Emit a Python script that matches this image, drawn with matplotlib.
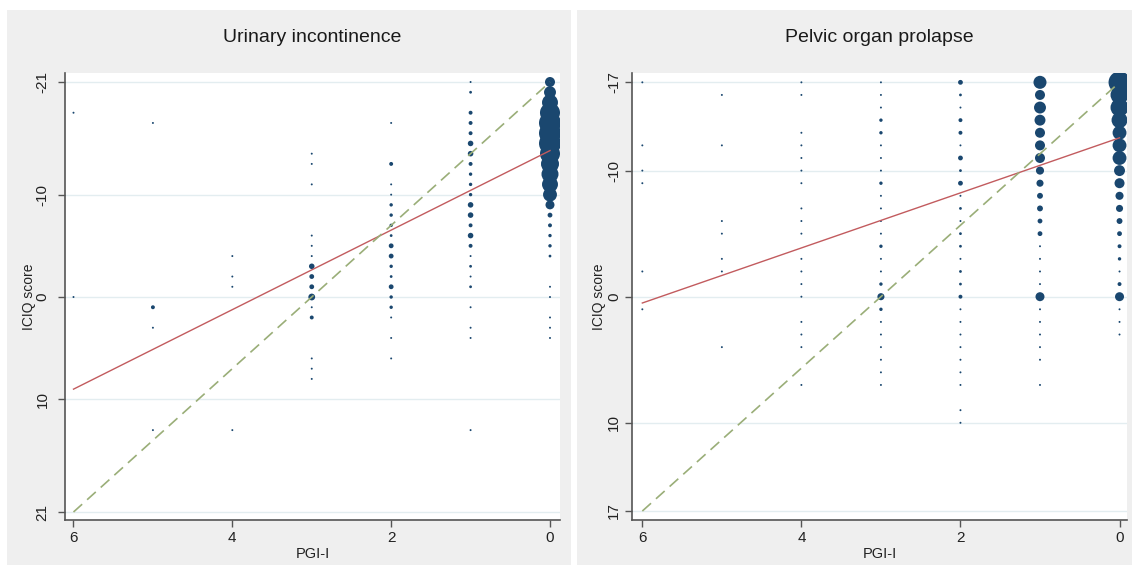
import numpy as np
import matplotlib.pyplot as plt
from matplotlib.patches import Rectangle

plt.rcParams['font.family'] = ['Liberation Sans', 'DejaVu Sans']

# PGI-I columns
pgi = [6, 5, 4, 3, 2, 1, 0]

# Urinary incontinence: ICIQ change score at each PGI-I value, and how many women share it
ui_y6 = [-18, 0]
ui_n6 = [1, 1]
ui_y5 = [-17, 1, 3, 13]
ui_n5 = [1, 4, 1, 1]
ui_y4 = [-4, -2, -1, 13]
ui_n4 = [1, 1, 1, 1]
ui_y3 = [-14, -13, -11, -6, -5, -4, -3, -2, -1, 0, 1, 2, 6, 7, 8]
ui_n3 = [1, 1, 1, 1, 1, 1, 8, 6, 6, 12, 1, 4, 1, 1, 1]
ui_y2 = [-17, -13, -11, -10, -9, -8, -7, -6, -5, -4, -3, -2, -1, 0, 1, 2, 4, 6]
ui_n2 = [1, 4, 1, 1, 3, 3, 3, 2, 6, 6, 3, 2, 6, 3, 3, 1, 1, 1]
ui_y1 = [-21, -20, -18, -17, -16, -15, -14, -13, -12, -11, -10, -9, -8, -7, -6, -5,
         -4, -3, -2, -1, 1, 3, 4, 13]
ui_n1 = [1, 2, 4, 4, 4, 8, 8, 4, 3, 3, 3, 8, 8, 4, 8, 4, 1, 2, 1, 2, 1, 1, 1, 1]
ui_y0 = [-21, -20, -19, -18, -17, -16, -15, -14, -13, -12, -11, -10, -9, -8, -7, -6,
         -5, -4, -1, 0, 2, 3, 4]
ui_n0 = [26, 37, 66, 104, 125, 125, 125, 104, 84, 75, 66, 50, 21, 6, 4, 3, 3, 2,
         1, 1, 1, 1, 1]
ui_fit = [9.0, -14.3]
ui_ref = [21, -21]

# Pelvic organ prolapse
pop_y6 = [-17, -12, -10, -9, -2, 1]
pop_n6 = [1, 1, 1, 1, 1, 1]
pop_y5 = [-16, -12, -6, -5, -3, -2, 4]
pop_n5 = [1, 1, 1, 1, 1, 1, 1]
pop_y4 = [-17, -16, -13, -12, -11, -10, -9, -7, -6, -5, -3, -2, -1, 0, 2, 3, 4, 7]
pop_n4 = [1] * 18
pop_y3 = [-17, -16, -15, -14, -13, -12, -11, -10, -9, -8, -7, -6, -5, -4, -3, -2,
          -1, 0, 1, 2, 3, 4, 5, 6, 7]
pop_n3 = [1, 1, 1, 3, 3, 1, 1, 1, 3, 1, 1, 1, 1, 3, 1, 1, 3, 13, 3, 1, 1, 1, 1, 1, 1]
pop_y2 = [-17, -16, -15, -14, -13, -12, -11, -10, -9, -8, -7, -6, -5, -4, -3, -2,
          -1, 0, 1, 2, 3, 4, 5, 6, 7, 9, 10]
pop_n2 = [6, 2, 1, 4, 4, 1, 6, 2, 6, 1, 2, 1, 2, 2, 1, 2, 2, 4, 1, 1, 1, 1, 1, 1, 1, 1, 1]
pop_y1 = [-17, -16, -15, -14, -13, -12, -11, -10, -9, -8, -7, -6, -5, -4, -3, -2,
          -1, 0, 1, 2, 3, 4, 5, 7]
pop_n1 = [44, 26, 37, 31, 26, 26, 26, 17, 13, 9, 9, 6, 6, 1, 1, 1, 1, 21, 1, 1, 1, 1, 1, 1]
pop_y0 = [-17, -16, -15, -14, -13, -12, -11, -10, -9, -8, -7, -6, -5, -4, -3, -2,
          -1, 0, 1, 2, 3]
pop_n0 = [125, 84, 84, 66, 50, 50, 50, 31, 26, 17, 13, 9, 6, 4, 3, 1, 4, 21, 1, 1, 1]
pop_fit = [0.5, -12.6]
pop_ref = [17, -17]

navy = '#1a476f'
bg = '#efefef'

fig = plt.figure(figsize=(11.32, 5.72), dpi=100)
fig.patch.set_facecolor('white')
fig.patches.append(Rectangle((7 / 1132, 7 / 572), 564 / 1132, 555 / 572,
                             transform=fig.transFigure, facecolor=bg, edgecolor='none', zorder=-10))
fig.patches.append(Rectangle((577 / 1132, 7 / 572), 555 / 1132, 555 / 572,
                             transform=fig.transFigure, facecolor=bg, edgecolor='none', zorder=-10))

panels = [
    ('Urinary incontinence', 65, [ui_y6, ui_y5, ui_y4, ui_y3, ui_y2, ui_y1, ui_y0],
     [ui_n6, ui_n5, ui_n4, ui_n3, ui_n2, ui_n1, ui_n0], ui_fit, ui_ref,
     [-21, -10, 0, 10, 21], (21.78, -21.88), (6.107, -0.126), 29, 6),
    ('Pelvic organ prolapse', 632, [pop_y6, pop_y5, pop_y4, pop_y3, pop_y2, pop_y1, pop_y0],
     [pop_n6, pop_n5, pop_n4, pop_n3, pop_n2, pop_n1, pop_n0], pop_fit, pop_ref,
     [-17, -10, 0, 10, 17], (17.71, -17.74), (6.13, -0.094), 599, 3),
]

for title, left, ys_all, ns_all, fit, ref, yticks, ylim, xlim, ylab_x, ypad in panels:
    ax = fig.add_axes([left / 1132, 1 - 520 / 572, 495 / 1132, 447 / 572])
    ax.set_facecolor('white')
    for xv, ys, ns in zip(pgi, ys_all, ns_all):
        ax.scatter(np.full(len(ys), xv), ys, s=np.array(ns) * 2.0, color=navy,
                   linewidths=0, zorder=3)
    ax.plot([6, 0], fit, color='#c25b5e', lw=1.0, zorder=4)
    ax.plot([6, 0], ref, color='#9aae78', lw=1.2, ls=(0, (7, 4)), zorder=5)

    ax.set_xlim(*xlim)
    ax.set_ylim(*ylim)
    ax.set_xticks([6, 4, 2, 0])
    ax.set_yticks(yticks)
    ax.set_yticklabels([str(t) for t in yticks], rotation=90, va='center')
    ax.grid(axis='y', color='#e3edf0', lw=1.0, zorder=0)
    ax.set_axisbelow(True)
    for side in ['top', 'right']:
        ax.spines[side].set_visible(False)
    for side in ['left', 'bottom']:
        ax.spines[side].set_color('#555555')
        ax.spines[side].set_linewidth(1.2)
    ax.tick_params(axis='both', length=5, width=1.0, color='#555555',
                   labelsize=11, labelcolor='#222222')
    ax.tick_params(axis='y', pad=ypad)
    ax.tick_params(axis='x', pad=3)
    ax.set_xlabel('PGI-I', fontsize=10.5, color='#222222', labelpad=1)

    cx = (left + 247.5) / 1132
    fig.text(cx, 1 - 38 / 572, title, ha='center', va='center', fontsize=14, color='#1a1a1a')
    fig.text(ylab_x / 1132, 1 - 296.5 / 572, 'ICIQ score', rotation=90, ha='center',
             va='center', fontsize=10, color='#222222')

fig.savefig('out.png', dpi=100)
